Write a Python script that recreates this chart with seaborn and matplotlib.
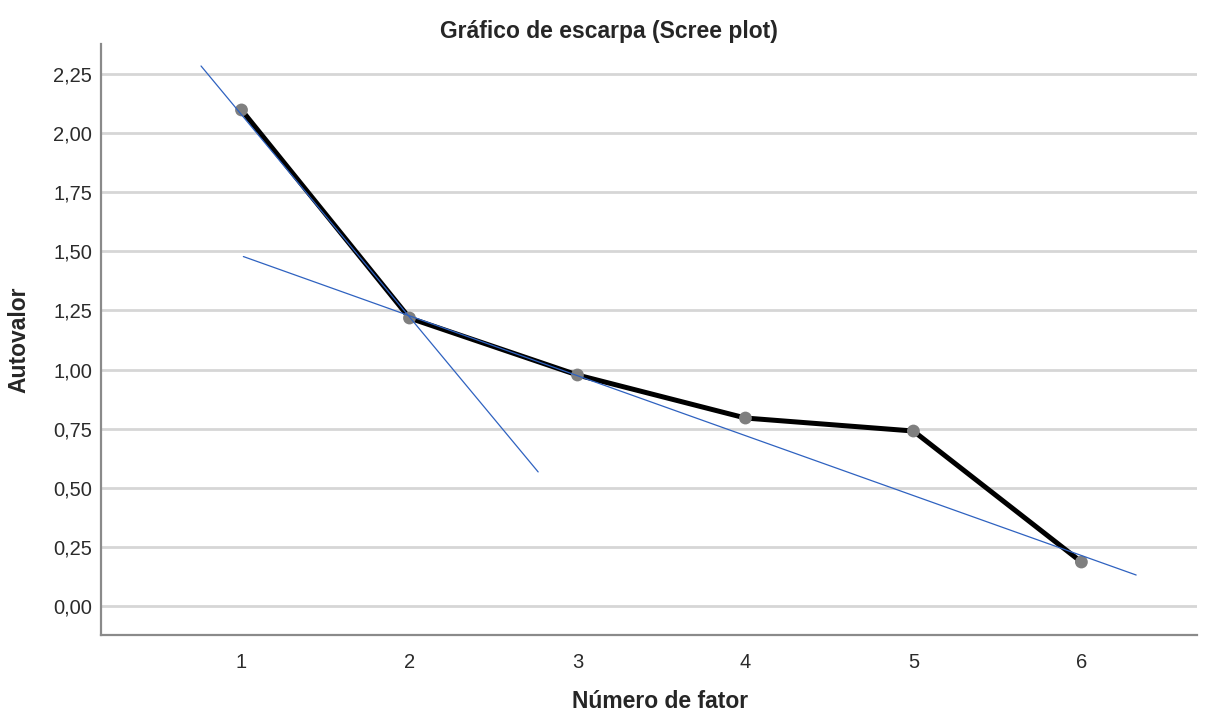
#!/usr/bin/env python3
"""Scree plot (SPSS style) recreated with seaborn."""

import matplotlib

matplotlib.use("Agg")

import matplotlib.pyplot as plt
import pandas as pd
import seaborn as sns
from matplotlib.ticker import FuncFormatter, MultipleLocator

factors = [1, 2, 3, 4, 5, 6]
eigenvalues = [2.098, 1.218, 0.977, 0.795, 0.740, 0.186]

# reference lines drawn over the scree (start / end points)
steep_x = [0.759, 2.766]
steep_y = [2.284, 0.567]
flat_x = [1.011, 6.326]
flat_y = [1.478, 0.131]

sns.set_theme(style="white")
plt.rcParams["font.family"] = ["Liberation Sans", "DejaVu Sans"]

df = pd.DataFrame({"fator": factors, "autovalor": eigenvalues})

fig = plt.figure(figsize=(12.1, 7.13), dpi=100)
ax = fig.add_axes([0.0835, 0.1094, 0.906, 0.8289])

for yv in [i * 0.25 for i in range(10)]:
    ax.axhline(yv, color="#d6d6d6", linewidth=2, zorder=0)

sns.lineplot(data=df, x="fator", y="autovalor", color="black", linewidth=3.6,
             ax=ax, zorder=2)
sns.scatterplot(data=df, x="fator", y="autovalor", color="#7f7f7f", s=85,
                edgecolor="none", ax=ax, zorder=3)
ax.plot(steep_x, steep_y, color="#2f62c0", linewidth=0.9, zorder=4)
ax.plot(flat_x, flat_y, color="#2f62c0", linewidth=0.9, zorder=4)

ax.set_xlim(0.1637, 6.69)
ax.set_ylim(-0.1227, 2.377)
ax.set_xticks(factors)
ax.yaxis.set_major_locator(MultipleLocator(0.25))
ax.yaxis.set_major_formatter(FuncFormatter(lambda v, _: f"{v:.2f}".replace(".", ",")))
ax.tick_params(axis="both", length=0, labelsize=14.5, colors="#2b2b2b", pad=6.5)
ax.tick_params(axis="x", pad=13)

for side in ["top", "right"]:
    ax.spines[side].set_visible(False)
for side in ["left", "bottom"]:
    ax.spines[side].set_color("#8a8a8a")
    ax.spines[side].set_linewidth(1.6)

ax.set_xlabel("Número de fator", fontsize=16.5, fontweight="bold", va="center")
ax.xaxis.set_label_coords(0.51, -0.113)
ax.set_ylabel("Autovalor", fontsize=16.5, fontweight="bold", va="center")
ax.yaxis.set_label_coords(-0.0745, 0.5)
fig.text(0.503, 0.956, "Gráfico de escarpa (Scree plot)", ha="center", va="center",
         fontsize=16.5, fontweight="bold")

fig.savefig("out.png", dpi=100)
plt.close(fig)
